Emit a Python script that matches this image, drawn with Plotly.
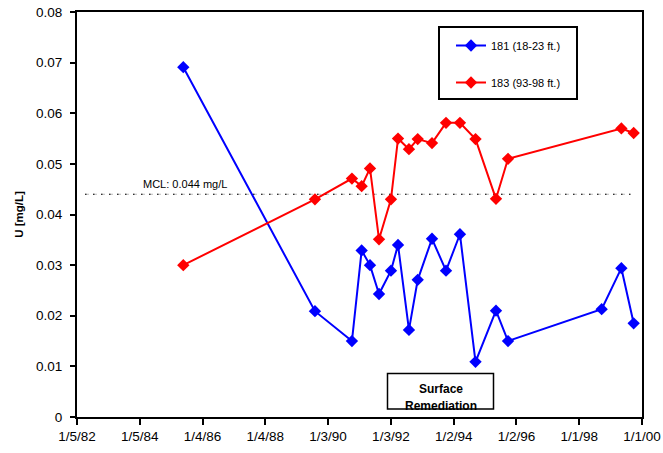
import plotly.graph_objects as go

# ---- data ----
dates_181 = ["1985-05-25", "1989-08-03", "1990-10-07", "1991-01-28", "1991-05-05",
             "1991-08-18", "1992-01-04", "1992-03-26", "1992-07-31", "1992-11-10",
             "1993-04-25", "1993-10-05", "1994-03-16", "1994-09-13", "1995-05-09",
             "1995-09-26", "1998-09-19", "1999-05-06", "1999-09-26"]
u_181 = [0.0691, 0.0209, 0.0150, 0.0329, 0.0300, 0.0243, 0.0289, 0.0340, 0.0172,
         0.0271, 0.0352, 0.0289, 0.0361, 0.0109, 0.0210, 0.0150, 0.0213, 0.0294, 0.0185]

dates_183 = ["1985-05-25", "1989-08-03", "1990-10-07", "1991-01-28", "1991-05-05",
             "1991-08-18", "1992-01-04", "1992-03-26", "1992-07-31", "1992-11-10",
             "1993-04-25", "1993-10-05", "1994-03-16", "1994-09-13", "1995-05-09",
             "1995-09-26", "1999-05-06", "1999-09-26"]
u_183 = [0.0300, 0.0430, 0.0471, 0.0456, 0.0491, 0.0351, 0.0430, 0.0550, 0.0529,
         0.0549, 0.0541, 0.0581, 0.0581, 0.0549, 0.0431, 0.0510, 0.0570, 0.0561]

mcl_value = 0.044
mcl_dates = ["1982-04-08", "1999-08-20"]

x_tick_dates = ["1982-01-05", "1984-01-05", "1986-01-04", "1988-01-04", "1990-01-03",
                "1992-01-03", "1994-01-02", "1996-01-02", "1998-01-01", "2000-01-01"]
x_tick_text = ["1/5/82", "1/5/84", "1/4/86", "1/4/88", "1/3/90",
               "1/3/92", "1/2/94", "1/2/96", "1/1/98", "1/1/00"]

FONT = "Liberation Sans, Arial, sans-serif"

fig = go.Figure()

# MCL line (grey dashes + black dots)
fig.add_trace(go.Scatter(x=mcl_dates, y=[mcl_value, mcl_value], mode="lines",
                         line=dict(color="#BBBBBB", width=1, dash="4px,4px"),
                         showlegend=False, hoverinfo="skip"))
fig.add_trace(go.Scatter(x=mcl_dates, y=[mcl_value, mcl_value], mode="lines",
                         line=dict(color="black", width=1, dash="1.5px,6.5px"),
                         showlegend=False, hoverinfo="skip"))

fig.add_trace(go.Scatter(x=dates_181, y=u_181, mode="lines+markers", name="181 (18-23 ft.)",
                         legendgroup="a",
                         line=dict(color="#0000FF", width=2),
                         marker=dict(symbol="diamond", size=9.5, color="#0000FF")))
fig.add_trace(go.Scatter(x=dates_183, y=u_183, mode="lines+markers", name="183 (93-98 ft.)",
                         legendgroup="b",
                         line=dict(color="#FF0000", width=2),
                         marker=dict(symbol="diamond", size=9.5, color="#FF0000")))

L, R, T, B = 77, 21, 12, 36
W, H = 663, 453
pw, ph = W - L - R, H - T - B

def px_x(p):
    return (p - L) / pw

def px_y(p):
    return (H - B - p) / ph

fig.update_layout(
    width=W, height=H,
    margin=dict(l=L, r=R, t=T, b=B, pad=0, autoexpand=False),
    paper_bgcolor="white", plot_bgcolor="white",
    font=dict(family=FONT, size=12, color="black"),
    showlegend=True,
    legend=dict(x=px_x(451), y=px_y(31), xanchor="left", yanchor="top",
                bgcolor="rgba(0,0,0,0)", borderwidth=0,
                font=dict(family=FONT, size=11, color="black"),
                traceorder="grouped", tracegroupgap=18, itemwidth=30),
    xaxis=dict(type="date", range=[x_tick_dates[0], x_tick_dates[-1]],
               tickmode="array", tickvals=x_tick_dates, ticktext=x_tick_text,
               ticks="outside", ticklen=6, tickwidth=1.5, tickcolor="black",
               showline=True, linecolor="black", linewidth=2, mirror=True,
               showgrid=False, zeroline=False,
               tickfont=dict(family=FONT, size=13.5, color="black")),
    yaxis=dict(range=[0, 0.08], dtick=0.01, tick0=0,
               ticks="outside", ticklen=5, tickwidth=1.5, tickcolor="black",
               showline=True, linecolor="black", linewidth=2, mirror=True,
               showgrid=False, zeroline=False, ticklabelstandoff=5,
               tickfont=dict(family=FONT, size=13.5, color="black"),
               title=dict(text="<b>U [mg/L]</b>", standoff=10,
                          font=dict(family=FONT, size=11.5, color="black"))),
    shapes=[
        dict(type="rect", xref="paper", yref="paper",
             x0=px_x(439), x1=px_x(577), y0=px_y(99), y1=px_y(27),
             line=dict(color="black", width=2), fillcolor="rgba(0,0,0,0)"),
        dict(type="rect", xref="paper", yref="paper", layer="above",
             x0=px_x(387.5), x1=px_x(493.5), y0=px_y(409), y1=px_y(373.5),
             line=dict(color="black", width=1.5), fillcolor="white"),
    ],
    annotations=[
        dict(text="MCL: 0.044 mg/L", xref="paper", yref="paper",
             x=px_x(141), y=px_y(184), xanchor="left", yanchor="middle",
             showarrow=False, font=dict(family=FONT, size=11, color="black")),
        dict(text="<b>Surface</b>", xref="paper", yref="paper",
             x=px_x(440.5), y=px_y(388.5), xanchor="center", yanchor="middle",
             showarrow=False, font=dict(family=FONT, size=12, color="black")),
        dict(text="<b>Remediation</b>", xref="paper", yref="paper",
             x=px_x(440.5), y=px_y(405.5), xanchor="center", yanchor="middle",
             showarrow=False, font=dict(family=FONT, size=12, color="black")),
        dict(text=" ", xref="paper", yref="paper",
             x=px_x(440.5), y=px_y(409.8), xanchor="center", yanchor="top",
             showarrow=False, width=110, height=6, borderpad=0, borderwidth=0,
             bgcolor="white", font=dict(family=FONT, size=4, color="white")),
    ],
)

fig.write_html("out.html", config={"displayModeBar": False},
               post_script="document.body.style.margin='0';")
